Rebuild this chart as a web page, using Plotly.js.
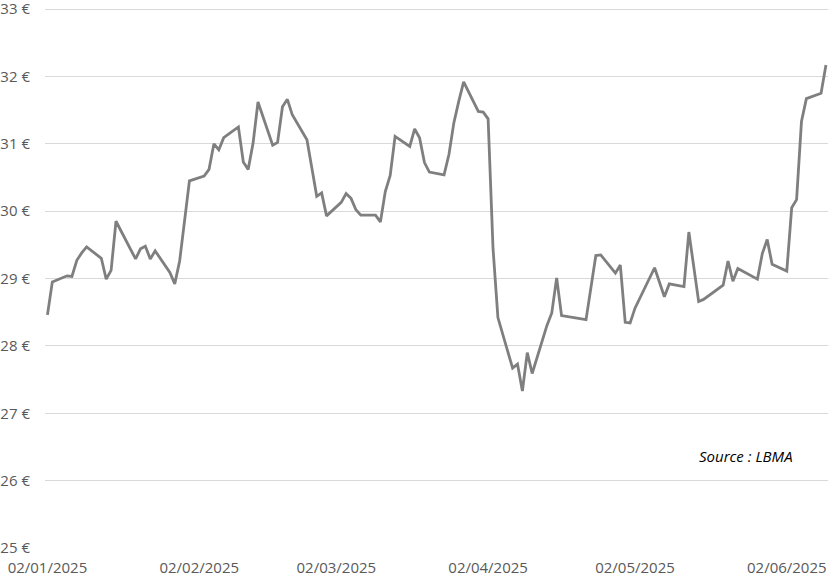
<!DOCTYPE html>
<html>
<head>
<meta charset="utf-8">
<script src="https://cdn.plot.ly/plotly-3.0.1.min.js"></script>
<style>html,body{margin:0;padding:0;background:#fff;}#chart{width:840px;height:587px;}</style>
</head>
<body>
<div id="chart"></div>
<script>
const dates = [
'2025-01-02','2025-01-03','2025-01-06','2025-01-07','2025-01-08','2025-01-09','2025-01-10',
'2025-01-13','2025-01-14','2025-01-15','2025-01-16','2025-01-20','2025-01-21','2025-01-22',
'2025-01-23','2025-01-24','2025-01-27','2025-01-28','2025-01-29','2025-01-31',
'2025-02-03','2025-02-04','2025-02-05','2025-02-06','2025-02-07','2025-02-10','2025-02-11',
'2025-02-12','2025-02-13','2025-02-14','2025-02-17','2025-02-18','2025-02-19','2025-02-20',
'2025-02-21','2025-02-24','2025-02-25','2025-02-26','2025-02-27','2025-02-28',
'2025-03-03','2025-03-04','2025-03-05','2025-03-06','2025-03-07','2025-03-10','2025-03-11',
'2025-03-12','2025-03-13','2025-03-14','2025-03-17','2025-03-18','2025-03-19','2025-03-20',
'2025-03-21','2025-03-24','2025-03-25','2025-03-26','2025-03-27','2025-03-28','2025-03-31',
'2025-04-01','2025-04-02','2025-04-03','2025-04-04','2025-04-07','2025-04-08','2025-04-09',
'2025-04-10','2025-04-11','2025-04-14','2025-04-15','2025-04-16','2025-04-17','2025-04-22',
'2025-04-24','2025-04-25','2025-04-28','2025-04-29','2025-04-30','2025-05-01','2025-05-02',
'2025-05-06','2025-05-08','2025-05-09','2025-05-12','2025-05-13','2025-05-15','2025-05-16',
'2025-05-20','2025-05-21','2025-05-22','2025-05-23','2025-05-27','2025-05-28','2025-05-29',
'2025-05-30','2025-06-02','2025-06-03','2025-06-04','2025-06-05','2025-06-06','2025-06-09',
'2025-06-10'
];
const prices = [
28.46,28.95,29.04,29.03,29.27,29.38,29.47,
29.30,28.99,29.12,29.85,29.29,29.44,29.48,
29.29,29.41,29.09,28.92,29.26,30.45,
30.52,30.62,31.00,30.91,31.09,31.25,30.73,
30.62,31.01,31.62,30.98,31.02,31.55,31.66,
31.43,31.06,30.64,30.22,30.27,29.93,
30.13,30.26,30.19,30.02,29.94,29.94,29.84,
30.29,30.53,31.11,30.96,31.22,31.09,30.72,
30.58,30.54,30.84,31.31,31.63,31.92,31.48,
31.47,31.37,29.45,28.42,27.67,27.73,27.33,
27.90,27.59,28.30,28.49,29.01,28.45,28.39,
29.34,29.35,29.08,29.20,28.35,28.34,28.56,
29.16,28.73,28.92,28.88,29.69,28.66,28.69,
28.90,29.26,28.96,29.15,28.99,29.37,29.58,
29.21,29.11,30.05,30.17,31.33,31.67,31.75,
32.17
];
const xTickVals = ['2025-01-02','2025-02-02','2025-03-02','2025-04-02','2025-05-02','2025-06-02'];
const xTickText = ['02/01/2025','02/02/2025','02/03/2025','02/04/2025','02/05/2025','02/06/2025'];
const yTickVals = [25,26,27,28,29,30,31,32,33];
const yTickText = ['25 €','26 €','27 €','28 €','29 €','30 €','31 €','32 €','33 €'];
const sourceText = 'Source : LBMA';

const trace = {
  x: dates, y: prices, type: 'scatter', mode: 'lines',
  line: {color: '#7f7f7f', width: 2.8},
  hoverinfo: 'skip'
};
const font = {family: 'Open Sans, sans-serif', size: 15, color: '#595959'};
const layout = {
  width: 840, height: 587,
  margin: {l: 45, r: 12, t: 6, b: 39, pad: 0},
  paper_bgcolor: '#ffffff', plot_bgcolor: '#ffffff',
  showlegend: false,
  font: font,
  xaxis: {
    type: 'date',
    range: ['2025-01-01 12:00', '2025-06-10 10:00'],
    tickmode: 'array', tickvals: xTickVals, ticktext: xTickText,
    showgrid: false, zeroline: false, showline: false,
    ticks: '', ticklabelstandoff: 9, ticklabeloverflow: 'allow',
    tickfont: font
  },
  yaxis: {
    range: [25, 33.045],
    tickmode: 'array', tickvals: yTickVals, ticktext: yTickText,
    showgrid: true, gridcolor: '#d9d9d9', gridwidth: 1,
    zeroline: false, showline: false,
    ticks: '', ticklabelstandoff: 14, ticklabeloverflow: 'allow',
    tickfont: font
  },
  annotations: [{
    text: sourceText, xref: 'paper', yref: 'paper',
    x: 0.895, y: 0.17, xanchor: 'center', yanchor: 'middle',
    showarrow: false,
    font: {family: 'Open Sans, sans-serif', size: 15, color: '#000000', style: 'italic'}
  }]
};
Plotly.newPlot('chart', [trace], layout, {staticPlot: true, displayModeBar: false});
</script>
</body>
</html>
